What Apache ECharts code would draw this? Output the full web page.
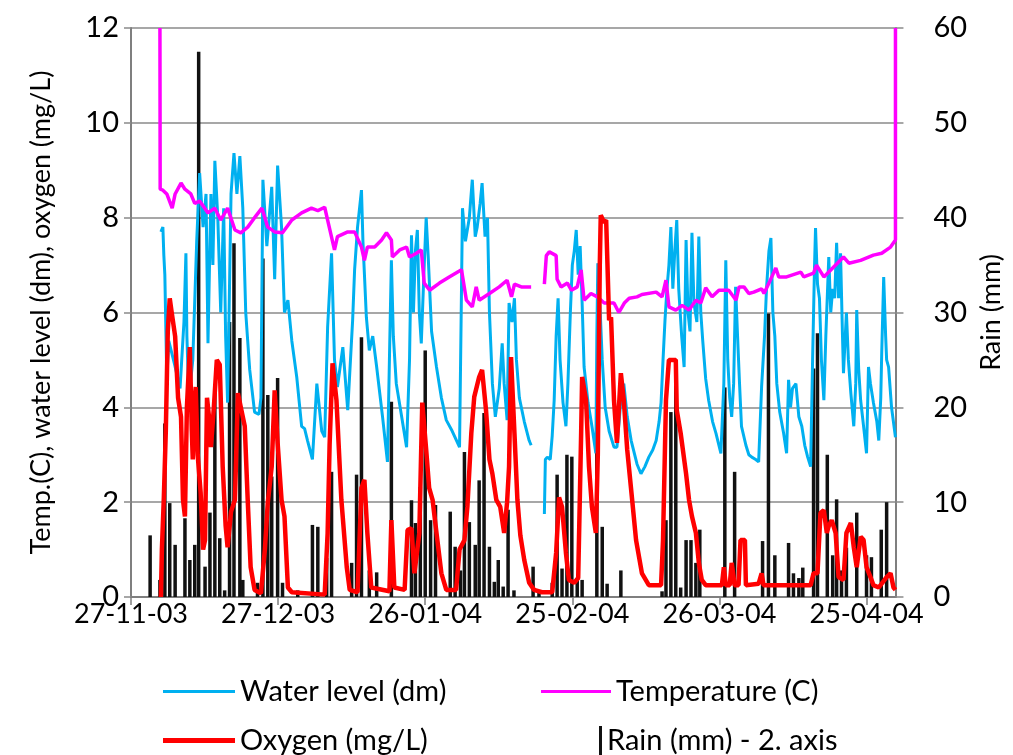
<!DOCTYPE html>
<html lang="en">

<head>
    <meta charset="UTF-8">
    <title>Water level, temperature, oxygen and rain</title>
    <script src="https://cdn.jsdelivr.net/npm/echarts/dist/echarts.min.js"></script>
    <style>
        body { margin: 0; background: #fff; }
        #main { width: 1013px; height: 755px; }
    </style>
</head>

<body>
    <div id="main"></div>

    <script>
        // x values are days counted from 27-11-03
        const startDate = Date.UTC(2003, 10, 27);

        const waterLevel = [
            [6.1, 7.7], [6.5, 7.8], [6.7, 7.2], [6.9, 6.8], [7.3, 4.6], [7.7, 5.4], [8.9, 4.9], [10.0, 4.4], [10.8, 5.8], [11.2, 7.25],
            [11.4, 5.5], [11.8, 4.15], [12.6, 5.0], [13.4, 7.5], [14.0, 8.94], [14.7, 7.8], [15.3, 8.5], [15.7, 5.35], [16.3, 8.5], [16.7, 7.0],
            [17.1, 9.2], [17.7, 8.0], [18.3, 6.0], [18.9, 8.2], [19.3, 5.5], [19.7, 4.1], [20.4, 8.5], [21.0, 9.36], [21.6, 8.5], [22.2, 9.3],
            [22.8, 8.2], [23.4, 6.0], [24.2, 4.8], [25.2, 3.9], [26.1, 3.85], [26.5, 4.2], [26.9, 8.8], [27.7, 7.4], [28.7, 8.65], [29.3, 6.7],
            [29.9, 9.1], [30.7, 7.8], [31.3, 6.0], [32.0, 6.26], [32.8, 5.4], [33.8, 4.64], [34.8, 3.6], [35.4, 3.55], [36.0, 3.3], [37.0, 2.9],
            [37.9, 4.5], [38.9, 3.5], [39.5, 3.37], [40.1, 5.7], [40.9, 7.25], [41.5, 5.0], [42.1, 4.43], [43.2, 5.27], [44.2, 3.94], [45.2, 5.84],
            [45.6, 6.9], [46.2, 7.8], [47.0, 8.58], [47.3, 7.5], [48.0, 5.9], [48.6, 5.2], [49.3, 5.5], [50.1, 4.85], [51.3, 3.8], [52.3, 2.85],
            [52.7, 5.0], [53.1, 7.1], [53.5, 5.5], [54.1, 4.5], [55.2, 3.8], [56.2, 3.16], [56.8, 5.0], [57.2, 7.63], [57.6, 6.0], [58.0, 7.3],
            [58.4, 7.74], [58.8, 6.0], [59.2, 5.35], [59.8, 7.0], [60.2, 8.0], [60.6, 7.2], [61.3, 5.6], [62.3, 4.85], [63.3, 4.2], [64.3, 3.73],
            [65.5, 3.5], [67.0, 3.16], [67.4, 6.5], [67.6, 8.2], [68.2, 7.5], [69.0, 8.0], [69.6, 8.8], [70.2, 7.6], [70.6, 7.8], [71.2, 8.3],
            [71.6, 8.73], [72.2, 7.6], [72.7, 8.0], [73.1, 6.0], [73.7, 4.5], [74.3, 3.8], [75.1, 4.4], [75.7, 5.35], [76.1, 4.5], [76.7, 3.73],
            [77.1, 6.2], [77.7, 5.8], [78.2, 6.3], [78.6, 5.0], [79.2, 4.2], [80.2, 3.7], [81.2, 3.3], [81.6, 3.2],
            [83, '-'],
            [84.3, 1.75], [84.5, 2.9], [84.9, 2.95], [85.5, 2.9], [85.9, 3.4], [86.3, 4.15], [86.7, 5.5], [87.1, 6.3], [87.5, 5.0], [88.1, 4.1],
            [88.7, 3.6], [89.1, 4.5], [89.6, 6.0], [90.0, 7.0], [90.4, 7.3], [90.8, 7.74], [91.2, 6.8], [91.6, 7.4], [92.0, 6.2], [92.4, 4.85],
            [93.2, 4.1], [94.0, 3.6], [94.8, 3.03], [95.0, 5.5], [95.2, 7.04], [95.7, 6.0], [96.1, 5.0], [96.7, 4.0], [97.5, 3.5], [98.5, 3.16],
            [99.1, 3.16], [99.9, 4.15], [100.5, 4.5], [101.2, 3.8], [102.0, 3.3], [103.2, 2.8], [104.0, 2.6], [104.8, 2.75], [105.6, 2.95], [106.4, 3.1],
            [107.1, 3.3], [107.7, 3.7], [108.1, 4.1], [108.5, 5.0], [108.9, 5.84], [109.3, 6.5], [109.7, 7.0], [110.1, 7.8], [110.5, 6.5], [110.9, 7.3],
            [111.3, 7.95], [111.7, 6.5], [112.3, 5.5], [112.8, 4.85], [113.2, 7.53], [113.6, 6.0], [114.0, 5.6], [114.4, 7.68], [114.8, 6.2], [115.4, 5.8],
            [115.8, 7.6], [116.2, 6.0], [116.6, 5.4], [117.2, 4.6], [117.8, 4.15], [118.6, 3.7], [119.3, 3.45], [120.3, 3.03], [120.9, 4.5], [121.3, 7.1],
            [121.7, 5.0], [122.1, 4.2], [122.5, 3.8], [122.9, 4.5], [123.3, 6.54], [123.7, 5.5], [124.1, 4.5], [124.5, 3.6], [125.4, 3.2], [126.0, 3.0],
            [126.6, 2.95], [127.4, 2.9], [128.0, 2.85], [128.6, 4.43], [129.2, 5.5], [129.6, 6.5], [130.1, 7.3], [130.5, 7.57], [130.9, 6.0], [131.3, 5.5],
            [131.7, 4.5], [132.3, 3.9], [133.1, 3.45], [133.7, 3.03], [134.1, 4.58], [134.5, 4.0], [134.9, 4.4], [135.6, 4.5], [136.2, 3.8], [136.8, 3.6],
            [137.4, 3.2], [138.0, 2.95], [138.6, 2.75], [139.0, 5.0], [139.4, 7.0], [139.6, 7.78], [140.0, 6.6], [140.4, 6.3], [140.8, 5.0], [141.3, 4.15],
            [141.7, 5.5], [142.3, 7.17], [142.7, 6.0], [143.1, 6.5], [143.5, 6.3], [143.9, 7.47], [144.3, 6.3], [144.7, 7.25], [145.1, 5.5], [145.3, 4.72],
            [145.9, 6.0], [146.3, 5.0], [146.8, 4.3], [147.4, 3.6], [147.8, 4.5], [148.0, 6.05], [148.4, 4.8], [148.8, 4.15], [149.4, 3.6], [150.0, 3.03],
            [150.4, 4.85], [150.8, 4.5], [151.4, 4.1], [152.1, 3.7], [152.5, 3.3], [152.9, 4.2], [153.1, 5.15], [153.5, 6.75], [153.9, 5.5], [154.1, 5.0],
            [154.5, 4.85], [155.1, 4.0], [155.9, 3.37]
        ];

        const temperature = [
            [5.9, 12], [5.95, 8.6], [6.5, 8.58], [7.3, 8.5], [8.4, 8.2], [9.0, 8.5], [10.2, 8.73], [11.0, 8.6], [12.2, 8.5], [13.0, 8.3],
            [14.0, 8.35], [15.7, 8.1], [17.1, 8.2], [18.3, 7.95], [19.7, 8.2], [21.2, 7.74], [22.4, 7.68], [23.8, 7.8], [25.2, 8.0], [26.7, 8.2],
            [27.9, 7.8], [29.3, 7.7], [30.9, 7.68], [32.8, 7.95], [34.8, 8.1], [36.8, 8.2], [38.1, 8.15], [39.5, 8.22], [40.1, 7.95], [41.5, 7.32],
            [42.1, 7.6], [44.2, 7.7], [45.6, 7.7], [47.0, 7.38], [47.6, 7.1], [48.2, 7.38], [49.7, 7.38], [51.1, 7.53], [52.1, 7.68], [53.1, 7.53],
            [53.3, 7.17], [54.8, 7.32], [56.2, 7.38], [56.8, 7.17], [58.2, 7.25], [59.2, 7.32], [59.8, 6.62], [60.9, 6.47], [62.9, 6.62], [64.9, 6.75],
            [67.4, 6.9], [68.4, 6.26], [69.6, 6.12], [70.4, 6.54], [71.0, 6.26], [73.1, 6.4], [75.1, 6.54], [76.7, 6.68], [77.6, 6.33], [78.2, 6.6],
            [79.6, 6.54], [81.6, 6.54],
            [83, '-'],
            [84.3, 6.6], [84.7, 7.2], [85.3, 7.28], [86.7, 7.2], [86.9, 6.7], [87.7, 6.54], [89.0, 6.62], [89.8, 6.47], [91.0, 6.54], [91.8, 6.9],
            [92.4, 6.26], [93.8, 6.4], [95.1, 6.33], [96.5, 6.2], [98.5, 6.2], [99.5, 6.0], [100.6, 6.2], [101.6, 6.3], [103.2, 6.33], [104.2, 6.38],
            [107.1, 6.43], [108.3, 6.33], [109.1, 6.68], [109.7, 6.12], [111.1, 6.05], [112.4, 6.15], [113.8, 6.05], [115.2, 6.26], [116.2, 6.2], [117.2, 6.52],
            [118.5, 6.33], [119.9, 6.47], [121.9, 6.47], [123.4, 6.26], [124.0, 6.54], [125.0, 6.54], [126.0, 6.4], [127.0, 6.43], [128.6, 6.5], [129.1, 6.4],
            [130.1, 6.62], [131.5, 6.94], [132.1, 6.75], [133.7, 6.75], [136.6, 6.85], [137.2, 6.75], [139.2, 6.83], [139.8, 7.0], [141.3, 6.75], [143.3, 6.96],
            [145.3, 7.17], [146.4, 7.04], [148.8, 7.1], [151.4, 7.21], [153.1, 7.25], [154.9, 7.38], [155.9, 7.53], [155.9, 12]
        ];

        const oxygen = [
            [6.1, 0.0], [6.3, 1.0], [6.7, 2.1], [7.1, 3.5], [7.5, 5.6], [7.9, 6.3], [8.3, 6.0], [9.0, 5.5], [9.6, 4.2], [10.2, 3.8],
            [10.6, 2.05], [11.0, 1.7], [11.4, 4.0], [12.0, 5.27], [12.4, 3.5], [12.6, 2.9], [13.0, 4.15], [13.2, 4.43], [13.6, 3.0], [14.2, 2.2],
            [14.7, 1.0], [15.1, 1.2], [15.5, 4.2], [15.9, 3.8], [16.3, 3.16], [16.9, 4.0], [17.5, 5.0], [18.1, 4.9], [18.7, 2.75], [19.3, 1.5],
            [19.7, 1.05], [20.4, 1.8], [21.2, 2.05], [21.8, 4.3], [22.4, 4.0], [23.2, 3.6], [23.8, 2.05], [24.4, 0.63], [25.2, 0.15], [26.5, 0.08],
            [26.9, 0.05], [27.3, 1.0], [27.9, 2.0], [28.7, 2.75], [29.3, 4.36], [29.9, 3.25], [30.7, 2.05], [31.3, 1.7], [32.0, 0.2], [32.8, 0.1],
            [39.5, 0.05], [40.1, 1.35], [40.5, 3.2], [41.1, 4.93], [41.9, 4.15], [42.9, 2.05], [44.0, 0.63], [44.6, 0.15], [46.2, 0.1], [47.0, 2.3],
            [47.6, 2.47], [48.2, 1.35], [49.0, 0.2], [52.7, 0.12], [53.1, 1.62], [53.7, 0.2], [55.8, 0.15], [56.4, 1.41], [57.2, 1.45], [57.8, 0.5],
            [58.8, 1.35], [59.4, 4.1], [60.2, 3.1], [60.8, 2.3], [61.5, 2.05], [62.3, 1.35], [63.3, 0.5], [64.3, 0.15], [66.3, 0.15], [67.0, 1.0],
            [68.0, 1.2], [68.6, 1.9], [69.4, 3.45], [70.0, 4.22], [71.0, 4.64], [71.6, 4.79], [72.4, 3.94], [73.1, 2.9], [73.7, 2.6], [74.5, 2.05],
            [75.3, 1.9], [76.1, 1.35], [76.7, 2.0], [77.1, 2.75], [77.5, 5.06], [78.2, 3.45], [78.8, 2.05], [79.4, 1.3], [80.2, 0.78], [81.2, 0.3],
            [82.2, 0.15], [83.8, 0.1], [85.9, 0.1], [86.7, 0.93], [87.3, 2.1], [87.9, 1.9], [88.7, 0.93], [89.3, 0.36], [90.4, 0.3], [91.2, 0.4],
            [91.8, 3.45], [92.0, 4.64], [92.8, 4.15], [93.4, 2.75], [94.0, 1.9], [94.8, 1.35], [95.2, 3.0], [95.6, 7.0], [95.8, 8.05], [96.5, 7.9],
            [96.9, 7.95], [97.5, 5.84], [97.9, 5.9], [98.5, 4.15], [99.1, 3.25], [99.9, 4.72], [100.5, 4.15], [101.2, 3.1], [102.2, 2.05], [103.0, 1.2],
            [104.2, 0.5], [105.6, 0.25], [108.1, 0.25], [108.5, 1.2], [109.1, 4.15], [109.7, 5.0], [111.1, 5.0], [111.3, 3.94], [112.1, 3.45], [113.2, 2.6],
            [113.8, 2.05], [114.4, 1.7], [115.2, 1.35], [115.8, 0.72], [116.4, 0.36], [117.2, 0.25], [120.5, 0.25], [120.9, 0.63], [121.3, 0.25], [122.1, 0.25],
            [122.5, 0.72], [123.1, 0.25], [123.9, 0.25], [124.3, 1.2], [125.2, 1.2], [125.4, 0.25], [128.0, 0.28], [128.6, 0.5], [129.0, 0.25], [138.6, 0.25],
            [139.2, 0.5], [140.0, 0.5], [140.6, 1.77], [141.3, 1.83], [141.9, 1.35], [142.3, 1.5], [142.9, 1.62], [143.7, 1.35], [144.3, 0.42], [145.3, 0.36],
            [145.9, 1.35], [146.8, 1.56], [147.4, 1.05], [148.0, 0.63], [148.8, 1.27], [149.4, 1.2], [150.0, 0.63], [150.8, 0.42], [151.4, 0.25], [152.5, 0.2],
            [154.1, 0.42], [154.9, 0.5], [155.5, 0.2], [155.9, 0.15]
        ];

        const rain = [
            [3.9, 6.5], [5.9, 1.8], [6.9, 18.3], [7.9, 9.9], [9.0, 5.5], [11.0, 8.3], [12.0, 3.9], [13.0, 5.5], [13.8, 57.5], [15.1, 3.2],
            [16.1, 8.9], [17.1, 21.5], [18.1, 6.2], [19.1, 0.7], [20.1, 29.0], [21.0, 37.3], [22.2, 27.3], [22.8, 1.8], [25.8, 1.5], [26.9, 35.7],
            [27.9, 21.3], [28.7, 12.7], [29.9, 23.1], [30.9, 1.5], [34.0, 0.7], [37.0, 7.6], [38.1, 7.4], [39.9, 4.1], [40.9, 13.2], [45.0, 3.6],
            [46.0, 12.9], [47.0, 27.4], [48.6, 2.8], [50.1, 2.6], [53.1, 20.6], [57.2, 10.2], [58.0, 7.8], [59.0, 11.6], [60.0, 26.0], [61.1, 8.1],
            [62.1, 9.7], [65.1, 9.0], [66.1, 5.3], [67.2, 2.8], [68.0, 15.3], [69.0, 7.9], [70.2, 5.5], [71.0, 12.3], [72.0, 19.4], [73.1, 5.3],
            [74.1, 1.6], [74.9, 3.9], [75.9, 1.1], [76.9, 9.2], [78.1, 0.7], [82.0, 3.2], [83.2, 0.7], [85.9, 1.5], [86.9, 12.9], [87.9, 3.0],
            [88.9, 15.0], [89.9, 14.8], [91.0, 2.0], [92.0, 1.8], [95.0, 16.2], [96.1, 7.4], [97.1, 1.4], [99.9, 2.8], [108.3, 0.6], [109.1, 8.1],
            [110.1, 19.5], [111.1, 22.4], [112.1, 1.0], [113.2, 6.0], [114.2, 6.0], [115.2, 3.6], [116.0, 7.1], [121.1, 22.1], [123.1, 13.2], [128.8, 5.9],
            [130.0, 29.9], [131.3, 4.4], [134.1, 5.7], [135.1, 2.5], [136.2, 2.0], [137.0, 3.1], [139.2, 24.1], [140.0, 27.8], [142.0, 15.0], [143.1, 4.4],
            [143.9, 10.3], [144.9, 2.8], [145.9, 5.2], [148.0, 8.9], [150.0, 4.4], [151.0, 4.2], [153.0, 7.1], [154.1, 10.0]
        ];

        const font = 'Lato';
        const pad = n => (n < 10 ? '0' : '') + n;

        function dayLabel(v) {
            if (v % 30 !== 0) return '';
            const d = new Date(startDate + v * 86400000);
            return pad(d.getUTCDate()) + '-' + pad(d.getUTCMonth() + 1) + '-' + pad(d.getUTCFullYear() % 100);
        }

        const myChart = echarts.init(document.getElementById('main'));

        const legendText = { fontFamily: font, fontSize: 29, color: '#000' };

        const option = {
            animation: false,
            grid: { left: 131, right: 116, top: 28, bottom: 158 },
            legend: [
                { data: [{ name: 'Water level (dm)', icon: 'rect' }], left: 158, top: 672, itemWidth: 72, itemHeight: 3, selectedMode: false, textStyle: legendText },
                { data: [{ name: 'Temperature (C)', icon: 'rect' }], left: 536, top: 672, itemWidth: 70, itemHeight: 3, selectedMode: false, textStyle: legendText },
                { data: [{ name: 'Oxygen (mg/L)', icon: 'rect' }], left: 158, top: 721, itemWidth: 72, itemHeight: 5, selectedMode: false, textStyle: legendText },
                { data: [{ name: 'Rain (mm) - 2. axis', icon: 'rect' }], left: 594, top: 721, itemWidth: 3, itemHeight: 30, selectedMode: false, textStyle: legendText }
            ],
            xAxis: {
                type: 'value',
                min: 0,
                max: 155.9,
                interval: 30,
                axisLine: { lineStyle: { color: '#7f7f7f', width: 2 } },
                axisTick: { show: true, length: 8, lineStyle: { color: '#7f7f7f', width: 1.5 } },
                axisLabel: { formatter: dayLabel, showMaxLabel: false, margin: 4, fontFamily: font, fontSize: 27, color: '#000' },
                splitLine: { show: false }
            },
            yAxis: [
                {
                    type: 'value',
                    min: 0,
                    max: 12,
                    interval: 2,
                    name: 'Temp.(C), water level (dm), oxygen (mg/L)',
                    nameLocation: 'middle',
                    nameRotate: 90,
                    nameGap: 76,
                    nameTextStyle: { fontFamily: font, fontSize: 27, color: '#000' },
                    axisLine: { show: true, lineStyle: { color: '#7f7f7f', width: 2 } },
                    axisTick: { show: true, length: 7, lineStyle: { color: '#8a8a8a', width: 1.5 } },
                    axisLabel: { margin: 12, fontFamily: font, fontSize: 29, color: '#000' },
                    splitLine: { show: true, lineStyle: { color: '#8a8a8a', width: 1.5 } }
                },
                {
                    type: 'value',
                    min: 0,
                    max: 60,
                    interval: 10,
                    name: 'Rain (mm)',
                    nameLocation: 'middle',
                    nameRotate: 90,
                    nameGap: 80,
                    nameTextStyle: { fontFamily: font, fontSize: 27, color: '#000' },
                    axisLine: { show: true, lineStyle: { color: '#7f7f7f', width: 2 } },
                    axisTick: { show: true, length: 8, lineStyle: { color: '#8a8a8a', width: 1.5 } },
                    axisLabel: { margin: 38, fontFamily: font, fontSize: 29, color: '#000' },
                    splitLine: { show: false }
                }
            ],
            series: [
                {
                    name: 'Water level (dm)',
                    type: 'line',
                    data: waterLevel,
                    symbol: 'none',
                    color: '#00b0f0',
                    lineStyle: { width: 3 }
                },
                {
                    name: 'Temperature (C)',
                    type: 'line',
                    data: temperature,
                    symbol: 'none',
                    color: '#ff00ff',
                    lineStyle: { width: 3.5 }
                },
                {
                    name: 'Oxygen (mg/L)',
                    type: 'line',
                    data: oxygen,
                    symbol: 'none',
                    color: '#ff0000',
                    lineStyle: { width: 4.5 }
                },
                {
                    name: 'Rain (mm) - 2. axis',
                    type: 'bar',
                    yAxisIndex: 1,
                    data: rain,
                    barWidth: 3.5,
                    color: '#111',
                    z: 3
                }
            ]
        };

        myChart.setOption(option);
    </script>
</body>

</html>
